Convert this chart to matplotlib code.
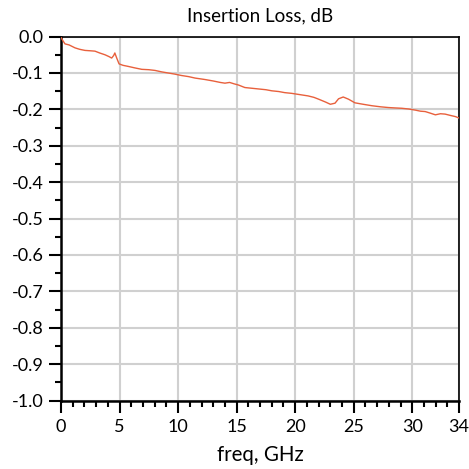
import matplotlib
matplotlib.use("Agg")
import matplotlib.pyplot as plt
from matplotlib.ticker import MultipleLocator, FixedLocator

plt.rcParams['font.family'] = ['Lato', 'DejaVu Sans']

# Measured insertion loss trace
freq_ghz = [0.0, 0.1, 0.34, 0.7, 1.2, 1.6, 2.05, 2.5, 2.9, 3.3, 3.76, 4.1, 4.33,
            4.5, 4.6, 4.76, 4.96, 5.3, 5.75, 6.3, 6.9, 7.5, 8.03, 8.6, 9.15, 9.7,
            10.3, 10.9, 11.45, 12.3, 13.0, 13.6, 14.0, 14.4, 14.8, 15.15, 15.7,
            16.3, 16.9, 17.5, 18.0, 18.6, 19.1, 19.7, 20.3, 20.7, 21.1, 21.6,
            22.0, 22.6, 23.0, 23.4, 23.7, 24.1, 24.55, 25.1, 25.8, 26.55, 27.3,
            27.97, 28.5, 29.1, 29.7, 30.25, 30.7, 31.1, 31.5, 31.97, 32.4, 32.8,
            33.3, 33.7, 34.0]
loss_db = [-0.002, -0.008, -0.020, -0.023, -0.031, -0.035, -0.038, -0.039, -0.040,
           -0.045, -0.050, -0.055, -0.059, -0.052, -0.045, -0.059, -0.075, -0.079,
           -0.082, -0.086, -0.090, -0.091, -0.093, -0.097, -0.100, -0.103, -0.107,
           -0.110, -0.114, -0.118, -0.122, -0.126, -0.128, -0.126, -0.130, -0.133,
           -0.140, -0.142, -0.144, -0.146, -0.149, -0.151, -0.154, -0.156, -0.159,
           -0.161, -0.163, -0.167, -0.172, -0.180, -0.186, -0.183, -0.171, -0.166,
           -0.172, -0.182, -0.186, -0.190, -0.193, -0.195, -0.196, -0.197, -0.199,
           -0.202, -0.205, -0.206, -0.210, -0.215, -0.212, -0.213, -0.217, -0.220,
           -0.224]

x_ticks = [0, 5, 10, 15, 20, 25, 30, 34]
y_ticks = [0.0, -0.1, -0.2, -0.3, -0.4, -0.5, -0.6, -0.7, -0.8, -0.9, -1.0]

fig = plt.figure(figsize=(4.69, 4.69), dpi=100)
ax = fig.add_axes([0.130, 0.146, 0.849, 0.776])

ax.plot(freq_ghz, loss_db, color='#e8603c', linewidth=1.0, zorder=3)

ax.set_xlim(0, 34)
ax.set_ylim(-1.0, 0.0)
ax.xaxis.set_major_locator(FixedLocator(x_ticks))
ax.xaxis.set_minor_locator(MultipleLocator(1))
ax.yaxis.set_major_locator(FixedLocator(y_ticks))
ax.yaxis.set_minor_locator(MultipleLocator(0.05))
ax.set_xticklabels([str(t) for t in x_ticks])
ax.set_yticklabels([f"{t:.1f}" for t in y_ticks])

ax.grid(True, which='major', color='#d0d0d0', linewidth=1.5, zorder=0)
ax.tick_params(which='major', direction='out', length=8.5, width=1.5,
               labelsize=13, colors='black')
ax.tick_params(axis='x', which='major', pad=5)
ax.tick_params(axis='y', which='major', pad=4)
ax.tick_params(which='minor', direction='out', length=4, width=1.5)

for side in ['left', 'bottom']:
    ax.spines[side].set_linewidth(1.8)
for side in ['top', 'right']:
    ax.spines[side].set_linewidth(1.2)

ax.set_title("Insertion Loss, dB", fontsize=13.5, pad=11)
ax.set_xlabel("freq, GHz", fontsize=14.8, labelpad=7)

fig.savefig("out.png", dpi=100)
